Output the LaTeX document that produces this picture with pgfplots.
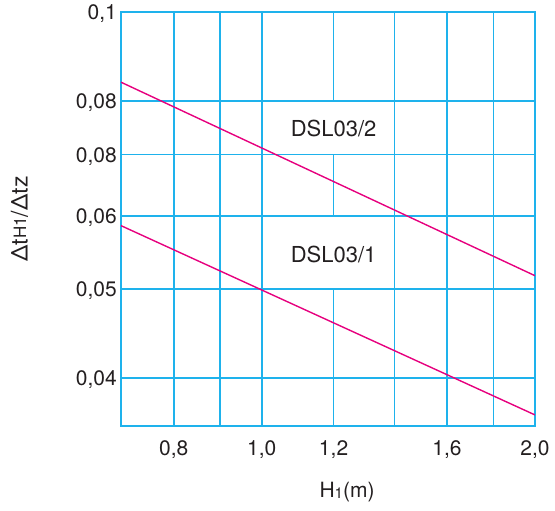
\documentclass[border=0pt]{standalone}
\usepackage{pgfplots}
\pgfplotsset{compat=1.18}
\usepackage{fontspec}
\setmainfont{TeX Gyre Heros}
\definecolor{gridcyan}{RGB}{30,178,236}
\definecolor{linemag}{RGB}{230,0,126}
\definecolor{ink}{RGB}{35,31,32}
\begin{document}
\begin{tikzpicture}
\begin{axis}[
  name=ax,
  scale only axis, width=414pt, height=414pt,
  xmode=log, ymode=log,
  xmin=0.7, xmax=2.0, ymin=0.0355, ymax=0.1,
  xtick={0.8,1.0,1.2,1.6,2.0},
  xticklabels={{0,8},{1,0},{1,2},{1,6},{2,0}},
  extra x ticks={0.9,1.4,1.8},
  extra x tick labels={{},{},{}},
  extra x tick style={grid=major, major tick length=0pt},
  ytick={0.04,0.05,0.06,0.07,0.08,0.1},
  yticklabels={{0,04},{0,05},{0,06},{0,08},{0,08},{0,1}},
  major tick length=0pt, minor tick length=0pt,
  grid=major,
  grid style={gridcyan, line width=1.7pt},
  major grid style={gridcyan, line width=1.7pt},
  axis line style={gridcyan, line width=1.7pt},
  tick label style={font=\fontsize{21}{21}\selectfont, text=ink, inner sep=0pt},
  xticklabel style={anchor=north, yshift=-14pt},
  yticklabel style={anchor=east, xshift=-4pt, text depth=0pt},
  xlabel={H\raisebox{-1.7pt}{\fontsize{15}{15}\selectfont 1}(m)},
  xlabel style={font=\fontsize{21}{21}\selectfont, text=ink,
    at={(axis description cs:0.546,-0.159)}, anchor=center},
  ylabel={Δt\raisebox{1.5pt}{\fontsize{17}{17}\selectfont H1}/Δtz},
  ylabel style={font=\fontsize{23}{23}\selectfont, text=ink,
    at={(axis description cs:-0.245,0.5)}, anchor=center},
]
% white cells behind the two labels (the 1,2 line is broken there)
\fill[white] ([xshift=1pt,yshift=1pt]axis cs:1.0,0.07) rectangle ([xshift=-1pt,yshift=-1pt]axis cs:1.4,0.08);
\fill[white] ([xshift=1pt,yshift=1pt]axis cs:1.0,0.05) rectangle ([xshift=-1pt,yshift=-1pt]axis cs:1.4,0.06);

\addplot[linemag, line width=1.4pt] coordinates {(0.7,0.0839) (2.0,0.0517)};
\addplot[linemag, line width=1.4pt] coordinates {(0.7,0.0586) (2.0,0.0365)};

\node[text=ink, font=\fontsize{22}{22}\selectfont] at (axis cs:1.2,0.0748) {DSL03/2};
\node[text=ink, font=\fontsize{22}{22}\selectfont] at (axis cs:1.2,0.0545) {DSL03/1};
\end{axis}
\path ([xshift=-121pt,yshift=-85pt]ax.south west) rectangle ([xshift=20pt,yshift=12pt]ax.north east);
\end{tikzpicture}
\end{document}
